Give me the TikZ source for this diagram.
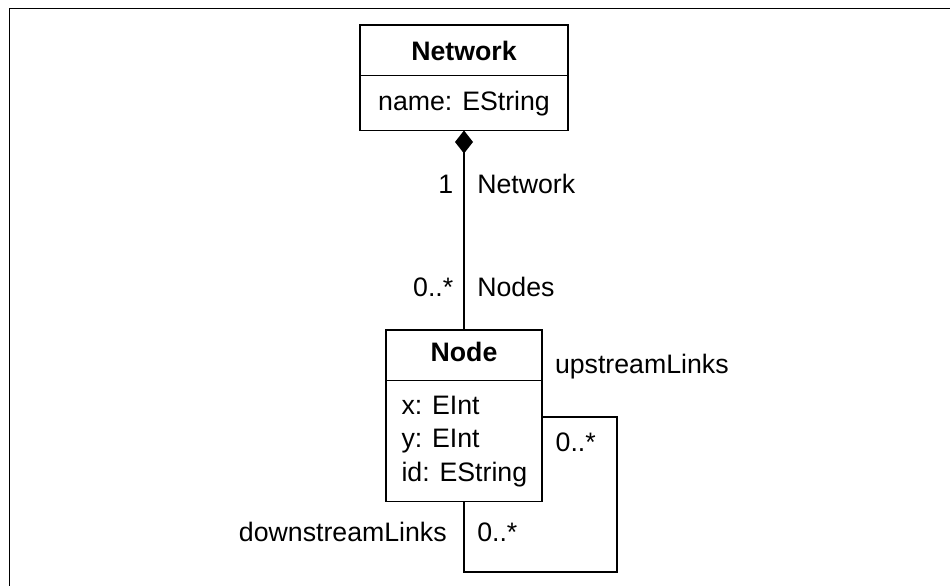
\documentclass[tikz,border=0pt]{standalone}
\usepackage{fontspec}
\setmainfont{Liberation Sans}
\usetikzlibrary{arrows.meta}
\begin{document}
\begin{tikzpicture}[x=1pt,y=-1pt,
  every node/.style={font=\fontsize{26.7}{33.8}\selectfont},
  classbox/.style={draw=black,line width=1.4pt,fill=white,inner sep=0pt,outer sep=0pt},
  lbl/.style={inner sep=0pt,outer sep=0pt},
  conn/.style={line width=1.4pt,draw=black}]
\useasboundingbox (0,0) rectangle (950,586);
\draw[line width=1.1pt] (9.5,586) -- (9.5,8.5) -- (950,8.5);
% Network class
\node[classbox,minimum width=208pt,minimum height=50.7pt] (nethead) at (464,50.35) {};
\node[classbox,minimum width=208pt,minimum height=54.8pt,anchor=north] (netbody) at (nethead.south) {};
\node[lbl,anchor=base] (netname) at (464,60) {\bfseries Network};
\node[lbl,anchor=base] (netattr) at (464,110) {name: EString};
% Node class
\node[classbox,minimum width=156pt,minimum height=50.7pt] (nodehead) at (464,355.35) {};
\node[classbox,minimum width=156pt,minimum height=121pt,anchor=north] (nodebody) at (nodehead.south) {};
\node[lbl,anchor=base] (nodename) at (464,361.7) {\bfseries Node};
\node[lbl,anchor=base west,align=left] (ax) at (401.5,414) {x: EInt};
\node[lbl,anchor=base west] (ay) at (401.5,447.5) {y: EInt};
\node[lbl,anchor=base west] (aid) at (401.5,481.5) {id: EString};
% composition
\draw[conn,{Diamond[length=23pt,width=18pt]}-] (netbody.south) -- (nodehead.north);
\node[lbl,anchor=base east] (m1) at (453.3,193.3) {1};
\node[lbl,anchor=base west] (r1) at (477.3,193.3) {Network};
\node[lbl,anchor=base east] (m2) at (453.3,296.7) {0..*};
\node[lbl,anchor=base west] (r2) at (477.3,296.7) {Nodes};
% self loop
\coordinate (lr) at (617,417);
\coordinate (lb) at (617,572);
\draw[conn] (nodebody.east |- lr) -- (lr) -- (lb) -- (nodebody.south |- lb) -- (nodebody.south);
\node[lbl,anchor=base west] (up) at (555,373.3) {upstreamLinks};
\node[lbl,anchor=base west] (m3) at (555.7,451.7) {0..*};
\node[lbl,anchor=base west] (m4) at (477.3,541.7) {0..*};
\node[lbl,anchor=base east] (down) at (446.7,541.7) {downstreamLinks};
\end{tikzpicture}
\end{document}
